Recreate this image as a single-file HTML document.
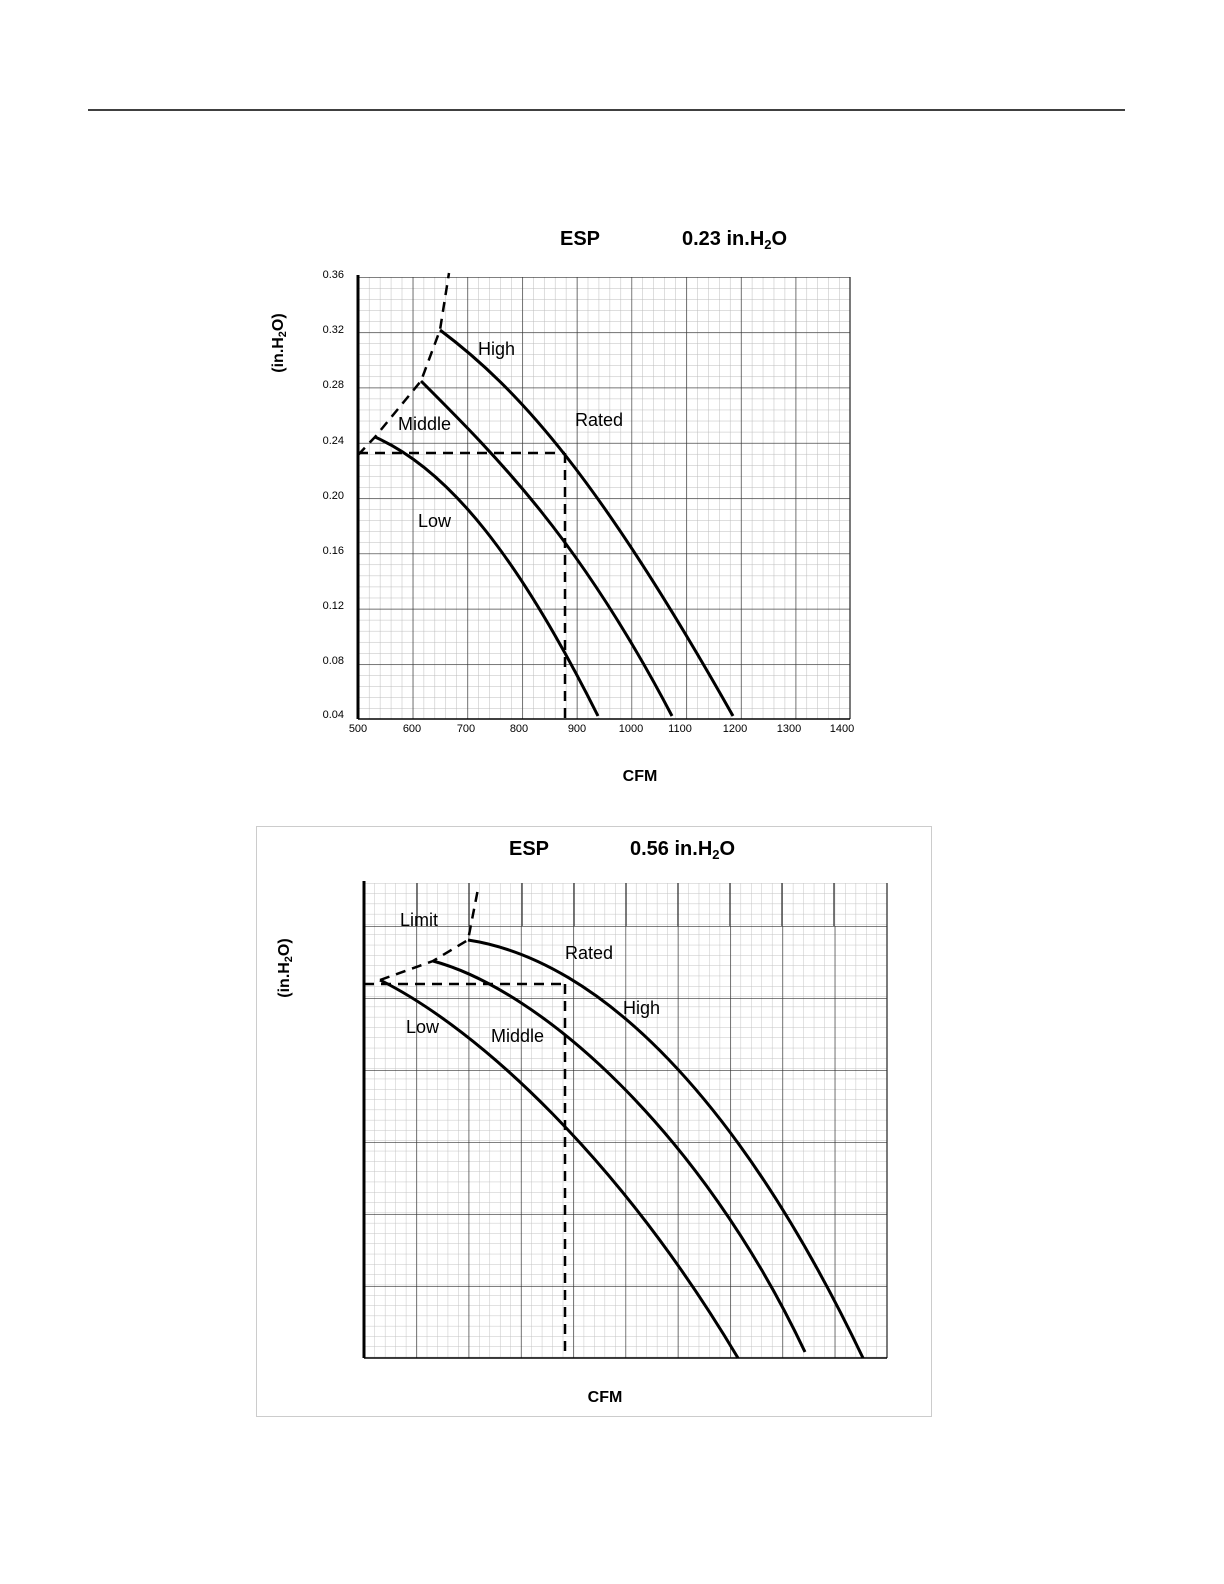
<!DOCTYPE html>
<html><head><meta charset="utf-8"><style>
html,body{margin:0;padding:0;background:#fff;overflow:hidden;width:1224px;height:1584px}
svg{position:absolute;left:0;top:0;font-family:"Liberation Sans",Arial,sans-serif}
</style></head><body>
<svg width="1224" height="1584" viewBox="0 0 1224 1584" xmlns="http://www.w3.org/2000/svg">
<defs>
<pattern id="m1" x="358" y="277" width="10.94" height="11.06" patternUnits="userSpaceOnUse">
<path d="M0 0H10.94M0 0V11.06" stroke="#bbb" stroke-width="1" fill="none"/></pattern>
<pattern id="M1" x="358" y="277" width="54.7" height="55.3" patternUnits="userSpaceOnUse">
<path d="M0 0H54.7M0 0V55.3" stroke="#333" stroke-width="1.3" fill="none"/></pattern>
<pattern id="m2" x="364" y="883" width="10.46" height="10.3" patternUnits="userSpaceOnUse">
<path d="M0 0H10.46M0 0V10.3" stroke="#c4c4c4" stroke-width="1" fill="none"/></pattern>
<pattern id="M2" x="364" y="926" width="52.3" height="72" patternUnits="userSpaceOnUse">
<path d="M0 0H52.3M0 0V72" stroke="#333" stroke-width="1.3" fill="none"/></pattern>
</defs>
<line x1="88" y1="110" x2="1125" y2="110" stroke="#000" stroke-width="1.5"/>

<!-- Top chart -->
<rect x="358" y="277" width="492" height="442" fill="url(#m1)"/>
<rect x="358" y="277" width="492" height="442" fill="url(#M1)"/>
<line x1="850" y1="277" x2="850" y2="719" stroke="#333" stroke-width="1.3"/>
<line x1="358" y1="719" x2="850" y2="719" stroke="#000" stroke-width="1.5"/>
<line x1="358" y1="275" x2="358" y2="719" stroke="#000" stroke-width="3"/>
<g font-size="11" text-anchor="end">
<text x="344" y="278">0.36</text><text x="344" y="333">0.32</text><text x="344" y="388">0.28</text>
<text x="344" y="444">0.24</text><text x="344" y="499">0.20</text><text x="344" y="554">0.16</text>
<text x="344" y="609">0.12</text><text x="344" y="664">0.08</text><text x="344" y="718">0.04</text>
</g>
<g font-size="11" text-anchor="middle">
<text x="358" y="732">500</text><text x="412" y="732">600</text><text x="466" y="732">700</text>
<text x="519" y="732">800</text><text x="577" y="732">900</text><text x="631" y="732">1000</text>
<text x="680" y="732">1100</text><text x="735" y="732">1200</text><text x="789" y="732">1300</text>
<text x="842" y="732">1400</text>
</g>
<g font-size="20" font-weight="bold">
<text x="560" y="245">ESP</text>
<text x="682" y="245">0.23 in.H<tspan font-size="13" dy="4">2</tspan><tspan dy="-4">O</tspan></text>
</g>
<text transform="translate(283,343) rotate(-90)" font-size="16" font-weight="bold" text-anchor="middle">(in.H<tspan font-size="11" dy="3">2</tspan><tspan dy="-3">O)</tspan></text>
<text x="640" y="781" font-size="16" font-weight="bold" text-anchor="middle">CFM</text>
<g fill="none" stroke="#000" stroke-width="3">
<path d="M440,330 C520,390 600,480 733,716"/>
<path d="M421,381 C500,460 580,540 672,716"/>
<path d="M375,437 C450,470 520,560 598,716"/>
</g>
<g fill="none" stroke="#000" stroke-width="2.5" stroke-dasharray="10,7">
<polyline points="358,455 375,437 421,381 440,330 449,273"/>
<line x1="358" y1="453" x2="565" y2="453"/>
<line x1="565" y1="453" x2="565" y2="719"/>
</g>
<g font-size="18">
<text x="478" y="355">High</text><text x="575" y="426">Rated</text>
<text x="398" y="430">Middle</text><text x="418" y="527">Low</text>
</g>

<!-- Bottom chart -->
<rect x="256.5" y="826.5" width="675" height="590" fill="none" stroke="#ccc"/>
<rect x="364" y="883" width="523" height="475" fill="url(#m2)"/>
<rect x="364" y="926" width="523" height="432" fill="url(#M2)"/>
<g stroke="#333" stroke-width="1.3">
<line x1="417" y1="883" x2="417" y2="926"/><line x1="469" y1="883" x2="469" y2="926"/>
<line x1="522" y1="883" x2="522" y2="926"/><line x1="574" y1="883" x2="574" y2="926"/>
<line x1="626" y1="883" x2="626" y2="926"/><line x1="678" y1="883" x2="678" y2="926"/>
<line x1="730" y1="883" x2="730" y2="926"/><line x1="782" y1="883" x2="782" y2="926"/>
<line x1="834" y1="883" x2="834" y2="926"/><line x1="887" y1="883" x2="887" y2="1358"/>
</g>
<line x1="364" y1="1358" x2="887" y2="1358" stroke="#000" stroke-width="1.5"/>
<line x1="364" y1="881" x2="364" y2="1358" stroke="#000" stroke-width="3"/>
<g font-size="20" font-weight="bold">
<text x="509" y="855">ESP</text>
<text x="630" y="855">0.56 in.H<tspan font-size="13" dy="4">2</tspan><tspan dy="-4">O</tspan></text>
</g>
<text transform="translate(289,968) rotate(-90)" font-size="16" font-weight="bold" text-anchor="middle">(in.H<tspan font-size="11" dy="3">2</tspan><tspan dy="-3">O)</tspan></text>
<text x="605" y="1402" font-size="16" font-weight="bold" text-anchor="middle">CFM</text>
<g fill="none" stroke="#000" stroke-width="3">
<path d="M468,940 C600,960 740,1100 863,1358"/>
<path d="M433,961 C540,990 700,1130 805,1352"/>
<path d="M380,980 C480,1030 620,1160 738,1358"/>
</g>
<g fill="none" stroke="#000" stroke-width="2.5" stroke-dasharray="10,7">
<polyline points="380,980 433,961 468,940 478,889"/>
<line x1="364" y1="984" x2="565" y2="984"/>
<line x1="565" y1="984" x2="565" y2="1358"/>
</g>
<g font-size="18">
<text x="400" y="926">Limit</text><text x="565" y="959">Rated</text>
<text x="623" y="1014">High</text><text x="491" y="1042">Middle</text><text x="406" y="1033">Low</text>
</g>
</svg>
</body></html>
